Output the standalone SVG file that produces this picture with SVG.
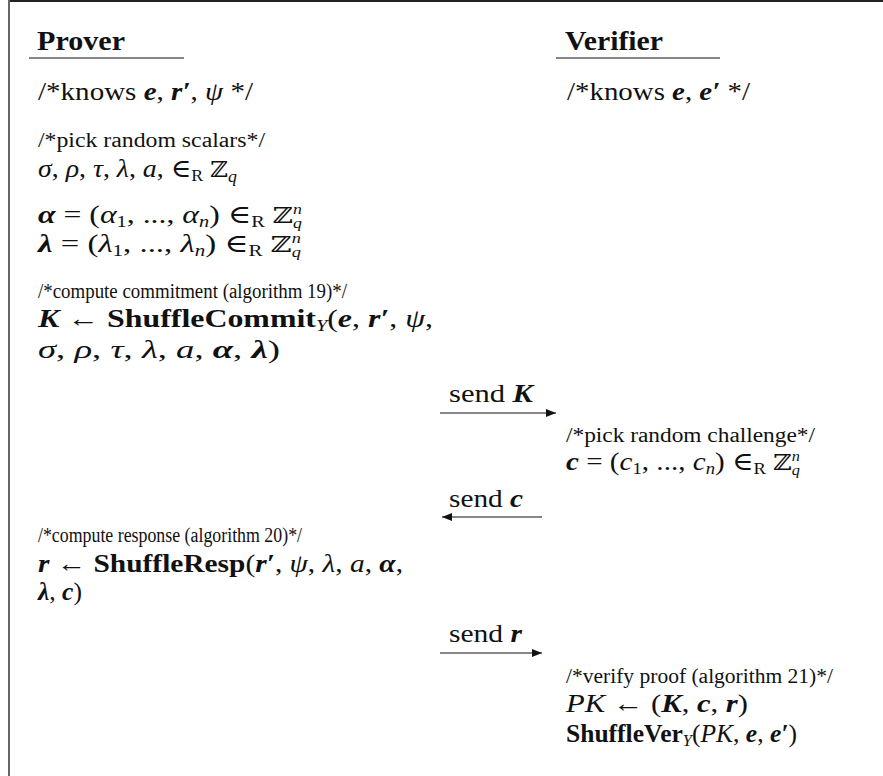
<svg xmlns="http://www.w3.org/2000/svg" width="883" height="776" viewBox="0 0 883 776">
<style>
text{font-family:"Liberation Serif","DejaVu Serif",serif;fill:#111;font-size:25px}
.s{font-size:20px}
.h{font-weight:bold;font-size:27px}
.i{font-style:italic}
.b{font-weight:bold}
.bi{font-weight:bold;font-style:italic}
.z{font-family:"DejaVu Serif",serif;font-size:22px}
.sub{font-size:16px}
.sc{font-size:14px;font-style:italic}
.conn line{stroke:#111;stroke-width:1.2}
</style>
<defs>
<marker id="ah" viewBox="0 0 10 8" refX="10" refY="4" markerWidth="10" markerHeight="8" markerUnits="userSpaceOnUse" orient="auto">
<path d="M0,0 L10,4 L0,8 z" fill="#111"/>
</marker>
</defs>
<rect width="883" height="776" fill="#fff"/>
<line x1="8.5" y1="1" x2="883" y2="1" stroke="#222" stroke-width="2"/>
<line x1="9" y1="0" x2="9" y2="776" stroke="#666" stroke-width="2"/>

<g id="prover-header">
<text class="h" x="37" y="50" textLength="88" lengthAdjust="spacingAndGlyphs">Prover</text>
<line x1="29" y1="58" x2="184" y2="58" stroke="#111" stroke-width="1.2"/>
</g>
<g id="verifier-header">
<text class="h" x="565" y="50" textLength="98" lengthAdjust="spacingAndGlyphs">Verifier</text>
<line x1="556" y1="58" x2="720" y2="58" stroke="#111" stroke-width="1.2"/>
</g>

<g id="prover-knows">
<text x="38" y="100" textLength="215" lengthAdjust="spacingAndGlyphs">/*knows <tspan class="bi">e</tspan>, <tspan class="bi">r′</tspan>, <tspan class="i">ψ</tspan> */</text>
</g>
<g id="verifier-knows">
<text x="567" y="100" textLength="183" lengthAdjust="spacingAndGlyphs">/*knows <tspan class="bi">e</tspan>, <tspan class="bi">e′</tspan> */</text>
</g>

<g id="prover-random">
<text class="s" x="38" y="147" textLength="227" lengthAdjust="spacingAndGlyphs">/*pick random scalars*/</text>
<text x="38" y="177" textLength="199" lengthAdjust="spacingAndGlyphs"><tspan class="i">σ</tspan>, <tspan class="i">ρ</tspan>, <tspan class="i">τ</tspan>, <tspan class="i">λ</tspan>, <tspan class="i">a</tspan>, ∈<tspan class="sub" dy="4">R</tspan> <tspan class="z" dy="-4">ℤ</tspan><tspan class="sub i" dy="5">q</tspan></text>
<text x="38" y="223" textLength="264" lengthAdjust="spacingAndGlyphs"><tspan class="bi">α</tspan> = (<tspan class="i">α</tspan><tspan class="sub" dy="4">1</tspan><tspan dy="-4">, ..., </tspan><tspan class="i">α</tspan><tspan class="sub i" dy="4">n</tspan><tspan dy="-4">) ∈</tspan><tspan class="sub" dy="4">R</tspan> <tspan class="z" dy="-4">ℤ</tspan><tspan class="sc" dy="-9">n</tspan><tspan class="sc" dx="-7" dy="14">q</tspan></text>
<text x="38" y="252" textLength="263" lengthAdjust="spacingAndGlyphs"><tspan class="bi">λ</tspan> = (<tspan class="i">λ</tspan><tspan class="sub" dy="4">1</tspan><tspan dy="-4">, ..., </tspan><tspan class="i">λ</tspan><tspan class="sub i" dy="4">n</tspan><tspan dy="-4">) ∈</tspan><tspan class="sub" dy="4">R</tspan> <tspan class="z" dy="-4">ℤ</tspan><tspan class="sc" dy="-9">n</tspan><tspan class="sc" dx="-7" dy="14">q</tspan></text>
</g>

<g id="prover-commit">
<text class="s" x="38" y="298" textLength="309" lengthAdjust="spacingAndGlyphs">/*compute commitment (algorithm 19)*/</text>
<text x="38" y="327" textLength="395" lengthAdjust="spacingAndGlyphs"><tspan class="bi">K</tspan> ← <tspan class="b">ShuffleCommit</tspan><tspan class="sub i" dy="4">Y</tspan><tspan dy="-4">(</tspan><tspan class="bi">e</tspan>, <tspan class="bi">r′</tspan>, <tspan class="i">ψ</tspan>,</text>
<text x="38" y="358" textLength="242" lengthAdjust="spacingAndGlyphs"><tspan class="i">σ</tspan>, <tspan class="i">ρ</tspan>, <tspan class="i">τ</tspan>, <tspan class="i">λ</tspan>, <tspan class="i">a</tspan>, <tspan class="bi">α</tspan>, <tspan class="bi">λ</tspan>)</text>
</g>

<g id="verifier-challenge">
<text class="s" x="566" y="442" textLength="249" lengthAdjust="spacingAndGlyphs">/*pick random challenge*/</text>
<text x="566" y="470" textLength="234" lengthAdjust="spacingAndGlyphs"><tspan class="bi">c</tspan> = (<tspan class="i">c</tspan><tspan class="sub" dy="4">1</tspan><tspan dy="-4">, ..., </tspan><tspan class="i">c</tspan><tspan class="sub i" dy="4">n</tspan><tspan dy="-4">) ∈</tspan><tspan class="sub" dy="4">R</tspan> <tspan class="z" dy="-4">ℤ</tspan><tspan class="sc" dy="-9">n</tspan><tspan class="sc" dx="-7" dy="14">q</tspan></text>
</g>

<g id="prover-response">
<text class="s" x="38" y="542" textLength="264" lengthAdjust="spacingAndGlyphs">/*compute response (algorithm 20)*/</text>
<text x="38" y="572" textLength="365" lengthAdjust="spacingAndGlyphs"><tspan class="bi">r</tspan> ← <tspan class="b">ShuffleResp</tspan>(<tspan class="bi">r′</tspan>, <tspan class="i">ψ</tspan>, <tspan class="i">λ</tspan>, <tspan class="i">a</tspan>, <tspan class="bi">α</tspan>,</text>
<text x="38" y="600" textLength="44" lengthAdjust="spacingAndGlyphs"><tspan class="bi">λ</tspan>, <tspan class="bi">c</tspan>)</text>
</g>

<g id="verifier-verify">
<text class="s" x="566" y="683" textLength="267" lengthAdjust="spacingAndGlyphs">/*verify proof (algorithm 21)*/</text>
<text x="566" y="712" textLength="182" lengthAdjust="spacingAndGlyphs"><tspan class="i">PK</tspan> ← (<tspan class="bi">K</tspan>, <tspan class="bi">c</tspan>, <tspan class="bi">r</tspan>)</text>
<text x="566" y="742" textLength="231" lengthAdjust="spacingAndGlyphs"><tspan class="b">ShuffleVer</tspan><tspan class="sub i" dy="4">Y</tspan><tspan dy="-4">(</tspan><tspan class="i">PK</tspan>, <tspan class="bi">e</tspan>, <tspan class="bi">e′</tspan>)</text>
</g>

<g id="connectors" class="conn">
<line x1="440" y1="413" x2="556" y2="413" marker-end="url(#ah)"/>
<line x1="542" y1="517" x2="442" y2="517" marker-end="url(#ah)"/>
<line x1="440" y1="653" x2="542" y2="653" marker-end="url(#ah)"/>
<text x="449" y="402" textLength="84" lengthAdjust="spacingAndGlyphs">send <tspan class="bi">K</tspan></text>
<text x="449" y="507" textLength="74" lengthAdjust="spacingAndGlyphs">send <tspan class="bi">c</tspan></text>
<text x="449" y="642" textLength="73" lengthAdjust="spacingAndGlyphs">send <tspan class="bi">r</tspan></text>
</g>
</svg>
